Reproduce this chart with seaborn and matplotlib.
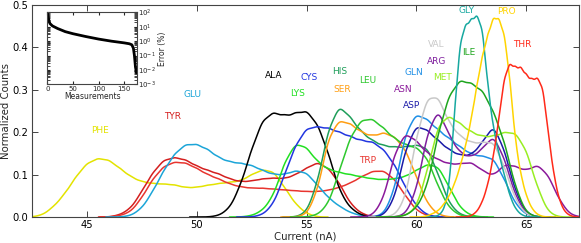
import numpy as np
import matplotlib
matplotlib.use("Agg")
import matplotlib.pyplot as plt
import seaborn as sns

# Amino acid current distributions, heights.
# Each curve is sampled every 0.5 nA (0.25 nA for the sharp GLY/PRO/THR peaks)
amino_acids = ["PHE", "TYR", "TRP", "GLU", "ALA", "LYS", "CYS", "HIS", "SER", "LEU",
               "GLN", "ASP", "ASN", "ARG", "VAL", "MET", "ILE", "GLY", "PRO", "THR"]

phe = [0.0, 0.005, 0.025, 0.055, 0.095, 0.127, 0.139, 0.135, 0.115, 0.095, 0.083, 0.079, 0.078,
       0.076, 0.069, 0.07, 0.075, 0.079, 0.082, 0.085, 0.1, 0.112, 0.108, 0.07, 0.03, 0.008]
tyr = [0.005, 0.02, 0.06, 0.105, 0.135, 0.141, 0.135, 0.12, 0.11, 0.102, 0.09, 0.083, 0.085,
       0.09, 0.092, 0.09, 0.1, 0.115, 0.13, 0.115, 0.08, 0.03, 0.008]
trp = [0.003, 0.012, 0.045, 0.09, 0.12, 0.13, 0.128, 0.115, 0.1, 0.09, 0.078, 0.071, 0.068,
       0.068, 0.066, 0.064, 0.062, 0.06, 0.06, 0.063, 0.07, 0.08, 0.095, 0.108, 0.11, 0.09,
       0.05, 0.015, 0.003]
glu = [0.003, 0.02, 0.06, 0.11, 0.15, 0.172, 0.172, 0.16, 0.14, 0.13, 0.127, 0.122, 0.11, 0.1,
       0.1, 0.11, 0.105, 0.075, 0.045, 0.025, 0.01, 0.003]
ala = [0.003, 0.02, 0.075, 0.16, 0.23, 0.248, 0.238, 0.245, 0.252, 0.22, 0.15, 0.06, 0.02, 0.004]
lys = [0.003, 0.015, 0.05, 0.13, 0.175, 0.165, 0.13, 0.112, 0.105, 0.1, 0.095, 0.09, 0.088,
       0.09, 0.095, 0.11, 0.125, 0.12, 0.07, 0.02, 0.003]
cys = [0.005, 0.03, 0.1, 0.17, 0.21, 0.213, 0.21, 0.2, 0.19, 0.18, 0.178, 0.16, 0.125, 0.07,
       0.025, 0.004]
his = [0.01, 0.08, 0.21, 0.265, 0.235, 0.2, 0.18, 0.168, 0.165, 0.165, 0.17, 0.165, 0.1, 0.03, 0.005]
ser = [0.005, 0.06, 0.19, 0.23, 0.22, 0.2, 0.19, 0.2, 0.19, 0.16, 0.095, 0.03, 0.005]
leu = [0.005, 0.03, 0.11, 0.19, 0.23, 0.232, 0.21, 0.185, 0.17, 0.165, 0.14, 0.07, 0.02, 0.003]
gln = [0.005, 0.06, 0.2, 0.245, 0.23, 0.205, 0.185, 0.165, 0.148, 0.143, 0.14, 0.09, 0.03, 0.005]
asp = [0.003, 0.04, 0.16, 0.218, 0.205, 0.18, 0.158, 0.145, 0.145, 0.175, 0.22, 0.16, 0.06, 0.008]
asn = [0.003, 0.04, 0.15, 0.2, 0.18, 0.15, 0.135, 0.125, 0.125, 0.13, 0.11, 0.095, 0.125,
       0.12, 0.108, 0.125, 0.1, 0.04, 0.005]
arg = [0.005, 0.06, 0.2, 0.258, 0.19, 0.15, 0.14, 0.16, 0.195, 0.14, 0.05, 0.005]
val = [0.003, 0.04, 0.19, 0.285, 0.285, 0.22, 0.19, 0.175, 0.175, 0.18, 0.12, 0.04, 0.005]
met = [0.003, 0.02, 0.11, 0.22, 0.24, 0.22, 0.2, 0.19, 0.19, 0.2, 0.2, 0.16, 0.07, 0.01]
ile = [0.003, 0.02, 0.07, 0.2, 0.29, 0.325, 0.315, 0.3, 0.25, 0.18, 0.07, 0.008]
gly = [0.003, 0.015, 0.07, 0.26, 0.42, 0.455, 0.465, 0.478, 0.45, 0.31, 0.21, 0.15, 0.1,
       0.05, 0.02, 0.006, 0.001]
pro = [0.003, 0.008, 0.015, 0.03, 0.05, 0.08, 0.12, 0.17, 0.23, 0.31, 0.38, 0.43, 0.472,
       0.47, 0.435, 0.33, 0.18, 0.1, 0.05, 0.02, 0.006, 0.001]
thr = [0.003, 0.012, 0.035, 0.075, 0.14, 0.23, 0.33, 0.365, 0.352, 0.355, 0.335, 0.323,
       0.33, 0.31, 0.2, 0.1, 0.04, 0.012, 0.003]

# (first current in nA, sampling step in nA, heights)
curves = {
    "PHE": (42.5, 0.5, phe), "TYR": (46.5, 0.5, tyr), "TRP": (46.5, 0.5, trp),
    "GLU": (47.0, 0.5, glu), "ALA": (51.0, 0.5, ala), "LYS": (52.5, 0.5, lys),
    "CYS": (53.0, 0.5, cys), "HIS": (55.0, 0.5, his), "SER": (55.0, 0.5, ser),
    "LEU": (55.5, 0.5, leu), "GLN": (58.5, 0.5, gln), "ASP": (58.5, 0.5, asp),
    "ASN": (58.0, 0.5, asn), "ARG": (59.5, 0.5, arg), "VAL": (59.0, 0.5, val),
    "MET": (59.5, 0.5, met), "ILE": (59.5, 0.5, ile), "GLY": (61.0, 0.25, gly),
    "PRO": (60.5, 0.25, pro), "THR": (62.5, 0.25, thr),
}

colors = {
    "PHE": "#e3e300", "TYR": "#d41f1f", "TRP": "#e8352f", "GLU": "#1ca5d8",
    "ALA": "#000000", "LYS": "#22e022", "CYS": "#2236e0", "HIS": "#1f9e5a",
    "SER": "#ff9e12", "LEU": "#2ec82e", "GLN": "#1e8fe6", "ASP": "#1a1aa8",
    "ASN": "#8b1a9b", "ARG": "#7f1f9e", "VAL": "#c8c8c8", "MET": "#98ee22",
    "ILE": "#1ea51e", "GLY": "#17a8a0", "PRO": "#ffd400", "THR": "#ff2a1a",
}

# where the names sit on the chart
label_pos = {
    "PHE": (45.6, 0.203), "TYR": (48.9, 0.236), "GLU": (49.8, 0.29), "ALA": (53.5, 0.335),
    "LYS": (54.6, 0.292), "CYS": (55.1, 0.33), "HIS": (56.5, 0.344), "SER": (56.6, 0.30),
    "LEU": (57.8, 0.323), "TRP": (57.8, 0.134), "GLN": (59.9, 0.342), "ASN": (59.4, 0.30),
    "ASP": (59.8, 0.264), "ARG": (60.9, 0.366), "MET": (61.2, 0.328), "VAL": (60.9, 0.408),
    "ILE": (62.4, 0.387), "GLY": (62.3, 0.488), "PRO": (64.1, 0.486), "THR": (64.8, 0.408),
}

# inset: error vs number of measurements
measurements = [0, 2, 5, 10, 20, 35, 50, 75, 100, 125, 150, 160, 165, 168, 170, 172, 174]
error_pct = [100, 40, 17, 11.5, 7.6, 4.6, 3.3, 2.1, 1.4, 1.0, 0.76, 0.66, 0.56, 0.32, 0.1,
             0.016, 0.0063]

sns.set_style("ticks")
plt.rcParams.update({
    "font.family": ["DejaVu Sans"],
    "xtick.direction": "in", "ytick.direction": "in",
    "xtick.top": True, "ytick.right": True,
    "axes.edgecolor": "#444444", "axes.linewidth": 0.8,
})

fig = plt.figure(figsize=(5.81, 2.43), dpi=100)
ax = fig.add_axes([0.055, 0.107, 0.9415, 0.872])

for name in amino_acids:
    x0, step, heights = curves[name]
    heights = np.asarray(heights, dtype=float)
    x = x0 + step * np.arange(len(heights))
    w = heights * step
    area = w.sum()
    sd = np.sqrt(np.cov(x, aweights=w))
    bw = 0.56 * step
    sns.kdeplot(x=x, weights=w, bw_method=bw / sd, color=colors[name], lw=1.1,
                cut=3, gridsize=500, ax=ax)
    line = ax.lines[-1]
    line.set_ydata(line.get_ydata() * area)
    tx, ty = label_pos[name]
    ax.text(tx, ty, name, color=colors[name], fontsize=6.5, ha="center", va="center")

ax.set_xlim(42.5, 67.4)
ax.set_ylim(0, 0.5)
ax.set_xticks([45, 50, 55, 60, 65])
ax.set_yticks([0.0, 0.1, 0.2, 0.3, 0.4, 0.5])
ax.set_yticklabels(["0.0", "0.1", "0.2", "0.3", "0.4", "0.5"])
ax.tick_params(labelsize=7.2, length=4, width=0.7, pad=2.5, colors="#444444",
               labelcolor="black")
ax.set_xlabel("Current (nA)", fontsize=7.3, labelpad=1)
ax.set_ylabel("Normalized Counts", fontsize=7.3, labelpad=1)

ins = fig.add_axes([0.0814, 0.653, 0.1544, 0.296])
sns.lineplot(x=measurements, y=error_pct, color="black", lw=2, ax=ins)
ins.set_yscale("log")
ins.set_ylim(1e-3, 1e2)
ins.set_xlim(0, 175)
ins.set_xticks([0, 50, 100, 150])
ins.yaxis.tick_right()
ins.yaxis.set_label_position("right")
ins.tick_params(which="both", direction="in", labelsize=5, left=True, right=True,
                top=True, length=2, pad=1)
ins.set_xlabel("Measurements", fontsize=5.5, labelpad=0)
ins.set_ylabel("Error (%)", fontsize=5.5, labelpad=1)

fig.savefig("out.png", dpi=100)
